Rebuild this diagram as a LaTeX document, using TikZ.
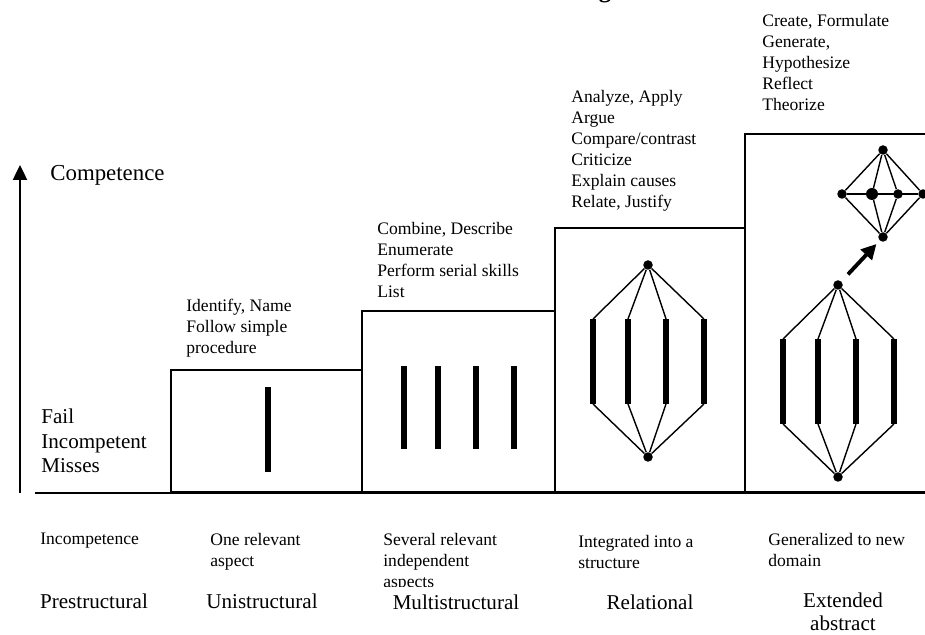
\documentclass[tikz,border=0pt]{standalone}
\usepackage{fontspec}
\setmainfont{Liberation Serif}
\usetikzlibrary{arrows.meta}

\begin{document}
\begin{tikzpicture}[
  stepbox/.style={draw, line width=0.9pt, anchor=south west, inner sep=0},
  bar/.style={line width=3pt},
  link/.style={line width=0.8pt},
  dot/.style={circle, fill, inner sep=0, minimum size=1.9mm},
  verbs/.style={anchor=north west, align=left, inner sep=0,
                font=\fontsize{10}{12}\selectfont},
  desc/.style={anchor=north west, align=left, inner sep=0,
               font=\fontsize{10}{12}\selectfont},
  level/.style={align=center, inner sep=0, font=\fontsize{12}{13.2}\selectfont},
  sidetext/.style={anchor=west, align=left, inner sep=0,
                   font=\fontsize{12}{13.8}\selectfont},
  axis/.style={line width=1.4pt, -{Triangle[length=3mm, width=2.8mm]}},
  jump/.style={line width=2.2pt, -{Triangle[length=3mm, width=3mm]}}
]
  \useasboundingbox (0,0) rectangle (18.5,12.7);

  % cut-off title
  \node[font=\bfseries\fontsize{14}{16}\selectfont, anchor=base, inner sep=0]
    (title) at (12.1,12.75) {g};

  % Axis and ground line
  \coordinate (axisbot) at (0.4,2.84);
  \coordinate (axistop) at (0.4,9.4);
  \draw[axis] (axisbot) -- (axistop);
  \draw[line width=0.9pt] (0.7,2.84) -- (18.5,2.84);
  \node[sidetext, font=\fontsize{13}{15}\selectfont] (comp) at (1.0,9.2) {Competence};
  \node[sidetext] (fail) at (0.82,3.88) {Fail\\Incompetent\\Misses};

  % Steps
  \node[stepbox, minimum width=3.82cm, minimum height=2.44cm] (box1) at (3.4,2.84) {};
  \node[stepbox, minimum width=3.86cm, minimum height=3.62cm] (box2) at (7.22,2.84) {};
  \node[stepbox, minimum width=3.80cm, minimum height=5.28cm] (box3) at (11.08,2.84) {};
  \node[stepbox, minimum width=4.20cm, minimum height=7.16cm] (box4) at (14.88,2.84) {};

  % Verbs above each step
  \node[verbs] (v1) at (3.72,6.72) {Identify, Name\\Follow simple\\procedure};
  \node[verbs] (v2) at (7.54,8.26) {Combine, Describe\\Enumerate\\Perform serial skills\\List};
  \node[verbs] (v3) at (11.42,10.9) {Analyze, Apply\\Argue\\Compare/contrast\\Criticize\\Explain causes\\Relate, Justify};
  \node[verbs] (v4) at (15.24,12.42) {Create, Formulate\\Generate,\\Hypothesize\\Reflect\\Theorize};

  % Unistructural
  \draw[bar] (5.36,3.26) -- (5.36,4.96);

  % Multistructural
  \foreach \x in {8.08,8.76,9.52,10.28} {
    \draw[bar] (\x,3.72) -- (\x,5.38);
  }

  % Relational
  \node[dot] (rtop) at (12.96,7.4) {};
  \node[dot] (rbot) at (12.96,3.56) {};
  \foreach \i/\x in {1/11.86,2/12.56,3/13.32,4/14.08} {
    \coordinate (rt\i) at (\x,6.32);
    \coordinate (rb\i) at (\x,4.62);
    \draw[bar] (rt\i) -- (rb\i);
    \draw[link] (rtop) -- (rt\i);
    \draw[link] (rb\i) -- (rbot);
  }

  % Extended abstract
  \node[dot] (etop) at (16.76,7.0) {};
  \node[dot] (ebot) at (16.76,3.16) {};
  \foreach \i/\x in {1/15.66,2/16.36,3/17.12,4/17.88} {
    \coordinate (et\i) at (\x,5.92);
    \coordinate (eb\i) at (\x,4.22);
    \draw[bar] (et\i) -- (eb\i);
    \draw[link] (etop) -- (et\i);
    \draw[link] (eb\i) -- (ebot);
  }

  % new domain
  \node[dot] (atop) at (17.66,9.7) {};
  \node[dot] (abot) at (17.66,7.96) {};
  \node[dot] (a1) at (16.84,8.82) {};
  \node[dot, minimum size=2.4mm] (a2) at (17.44,8.82) {};
  \node[dot] (a3) at (17.96,8.82) {};
  \node[dot] (a4) at (18.46,8.82) {};
  \foreach \j in {1,2,3,4} {
    \draw[link] (atop) -- (a\j) -- (abot);
  }
  \draw[link] (a1) -- (a4);
  \draw[jump, shorten <=1.9mm, shorten >=0.9mm] (etop) -- (abot);

  % Outcome descriptions
  \begin{scope}
    \clip (0,0.97) rectangle (18.5,2.8);
    \node[desc] (what0) at (0.8,2.04) {Incompetence};
    \node[desc] (what1) at (4.2,2.04) {One relevant\\aspect};
    \node[desc] (what2) at (7.66,2.04) {Several relevant\\independent\\aspects};
    \node[desc] (what3) at (11.56,2.0) {Integrated into a\\structure};
    \node[desc] (what4) at (15.36,2.04) {Generalized to new\\domain};
  \end{scope}

  % Level names
  \node[level] (lv0) at (1.88,0.68) {Prestructural};
  \node[level] (lv1) at (5.24,0.68) {Unistructural};
  \node[level] (lv2) at (9.12,0.66) {Multistructural};
  \node[level] (lv3) at (13.0,0.66) {Relational};
  \node[level] (lv4) at (16.86,0.46) {Extended\\abstract};
\end{tikzpicture}
\end{document}
